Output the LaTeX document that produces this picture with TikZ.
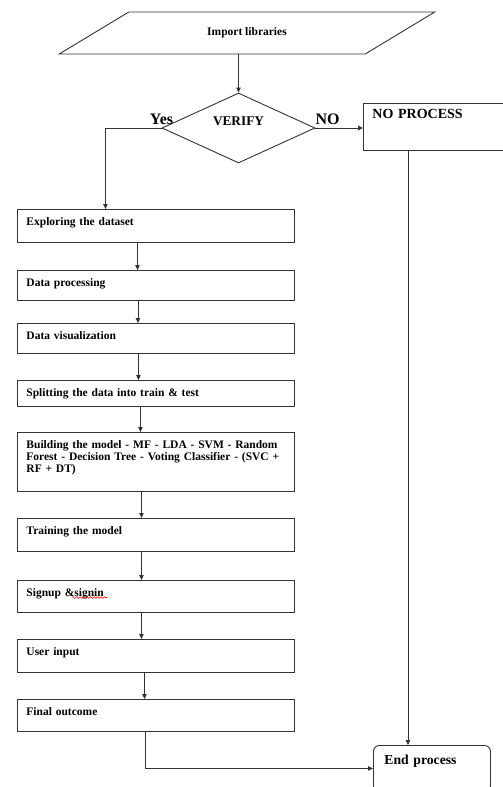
\documentclass[tikz,border=0pt]{standalone}
\usepackage{fontspec}
\setmainfont{Liberation Serif}
\usetikzlibrary{arrows.meta,positioning,shapes.geometric,decorations.pathmorphing}
\definecolor{linegray}{gray}{0.2}

\begin{document}
\begin{tikzpicture}[x=1pt,y=-1pt,
  flow/.style={-{Triangle[length=5pt,width=4.5pt]}, line width=0.9pt, draw=linegray},
  stepbox/.style={draw=linegray, line width=0.9pt, rectangle, anchor=north west,
    text width=259pt, inner xsep=9pt, inner ysep=0pt, align=left,
    text height=16.5pt, font=\bfseries\fontsize{11.5}{11.8}\selectfont},
  lbl/.style={inner sep=0pt, font=\bfseries\fontsize{16}{16}\selectfont}]
  \useasboundingbox (0,0) rectangle (503,787);

  % input and decision
  \node[draw=linegray, line width=0.9pt, trapezium, trapezium left angle=24,
    trapezium right angle=156, trapezium stretches=true, inner sep=0pt,
    minimum width=376pt, minimum height=42pt,
    font=\bfseries\fontsize{11.5}{11.5}\selectfont] (import) at (247,33) {Import libraries};
  \node[draw=linegray, line width=0.9pt, diamond, aspect=2.19, inner sep=0pt,
    minimum width=153pt, minimum height=70pt, text height=9.5pt, text depth=15.5pt,
    font=\bfseries\fontsize{13.3}{13.3}\selectfont] (verify) at (238.5,128) {VERIFY};
  \node[lbl, anchor=base] (yes) at ([yshift=3.5pt]verify.west) {Yes};
  \node[lbl, anchor=base west] (no) at ([yshift=3.5pt]verify.east) {NO};
  \node[draw=linegray, line width=0.9pt, anchor=north west, text width=123pt,
    inner xsep=9pt, inner ysep=0pt, align=left, text height=15pt, text depth=32pt,
    font=\bfseries\fontsize{14}{14}\selectfont] (noproc) at (363,103) {NO PROCESS};

  % main steps
  \node[stepbox, text depth=16.5pt] (explore) at (17,209) {Exploring the dataset};
  \node[stepbox, text depth=13.5pt] (process) at (17,270) {Data processing};
  \node[stepbox, text depth=13.5pt] (visual) at (17,323) {Data visualization};
  \node[stepbox, text depth=9.5pt] (split) at (17,380) {Splitting the data into train \& test};
  \node[stepbox, text depth=42.5pt] (build) at (17,432)
    {Building the model - MF - LDA - SVM - Random\\
     Forest - Decision Tree - Voting Classifier - (SVC +\\
     RF + DT)};
  \node[stepbox, text depth=16.5pt] (train) at (17,518) {Training the model};
  \node[stepbox, text depth=15.5pt] (signup) at (17,580) {Signup \&signin};
  \node[stepbox, text depth=16.5pt] (userin) at (17,639) {User input};
  \node[stepbox, text depth=15.5pt] (final) at (17,699) {Final outcome};
  \node[draw=linegray, line width=0.9pt, rounded corners=6pt, anchor=north west,
    text width=95pt, inner xsep=11pt, inner ysep=0pt, align=left,
    text height=19pt, text depth=27pt,
    font=\bfseries\fontsize{13.7}{13.7}\selectfont] (endp) at (373,745) {End process};

  % spell-check mark
  \draw[red, line width=0.6pt, decorate,
    decoration={snake, amplitude=0.9pt, segment length=3.5pt}]
    ([shift={(55,17.5)}]signup.north west) -- ++(35,0);

  % connectors
  \draw[flow] (import.south -| verify.north) -- (verify.north);
  \draw[flow] (verify.west) -| ([xshift=-50.5pt]explore.north);
  \draw[flow] (verify.east) -- (verify.east -| noproc.west);
  \foreach \a/\b/\d in {explore/process/-18.5, process/visual/-18,
      visual/split/-17.5, split/build/-15.5, build/train/-14.5,
      train/signup/-14.5, signup/userin/-14.5, userin/final/-11.5}
    \draw[flow] ([xshift=\d pt]\a.south) -- ([xshift=\d pt]\b.north);
  \draw[flow] ([xshift=-10.5pt]final.south) |- (endp.west);
  \draw[flow] ([xshift=-26pt]noproc.south) -- ([xshift=-26pt]noproc.south |- endp.north);
\end{tikzpicture}
\end{document}
